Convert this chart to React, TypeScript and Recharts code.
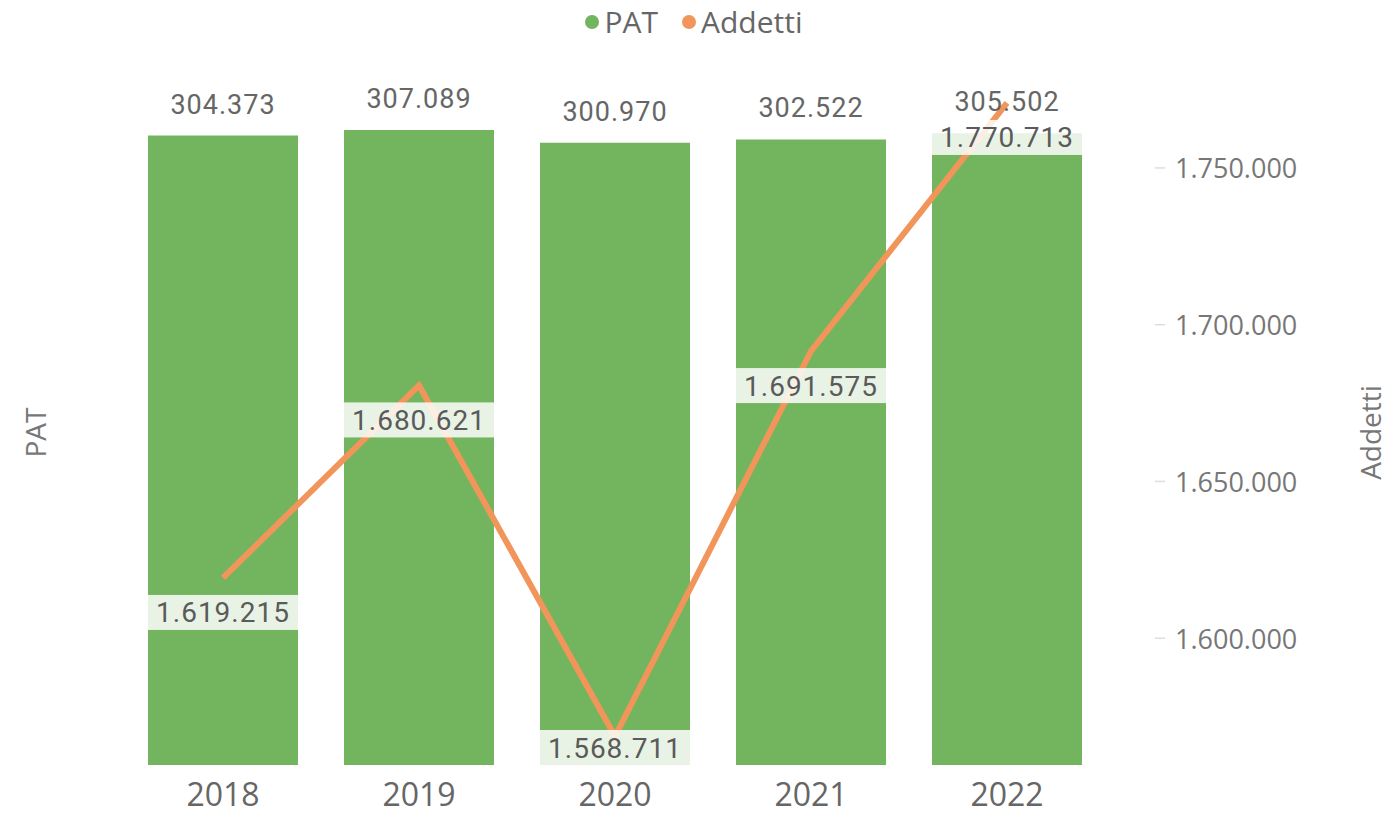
import {
  ComposedChart,
  Bar,
  Line,
  XAxis,
  YAxis,
  Legend,
  LabelList,
  Label,
} from 'recharts';

const years = ['2018', '2019', '2020', '2021', '2022'];
const pat = [304373, 307089, 300970, 302522, 305502];
const addetti = [1619215, 1680621, 1568711, 1691575, 1770713];
const addettiTicks = [1600000, 1650000, 1700000, 1750000];

const data = years.map((year, i) => ({ year, pat: pat[i], addetti: addetti[i] }));

const GREEN = '#72B55E';
const ORANGE = '#F2955A';
const TEXT = '#666666';

// separatore migliaia con il punto
const fmt = (v: number) => String(Math.round(v)).replace(/\B(?=(\d{3})+(?!\d))/g, '.');

const PLOT_BOTTOM = 765;

const LineLabel = (props: any) => {
  const { x, y, value } = props;
  let top = y + 17;
  if (top + 35 > PLOT_BOTTOM) top = PLOT_BOTTOM - 35;
  return (
    <g>
      <rect x={x - 75} y={top} width={150} height={35} fill="#ffffff" fillOpacity={0.84} />
      <text
        x={x}
        y={top + 18}
        textAnchor="middle"
        dominantBaseline="central"
        fill="#5a5a5a"
        fontSize={28}
        fontFamily="Roboto, sans-serif"
        letterSpacing={1}
      >
        {fmt(value)}
      </text>
    </g>
  );
};

const BarLabel = (props: any) => {
  const { x, y, width, value } = props;
  return (
    <text
      x={x + width / 2}
      y={y - 22}
      textAnchor="middle"
      fill={TEXT}
      fontSize={27}
      fontFamily="Roboto, sans-serif"
      letterSpacing={1}
    >
      {fmt(value)}
    </text>
  );
};

const RightTick = (props: any) => {
  const { x, y, payload } = props;
  return (
    <g>
      <line x1={x - 20} x2={x - 10} y1={y} y2={y} stroke="#dddddd" strokeWidth={1.5} />
      <text
        x={x}
        y={y}
        dominantBaseline="central"
        fill="#777777"
        fontSize={27}
        fontFamily="'Open Sans', sans-serif"
      >
        {fmt(payload.value)}
      </text>
    </g>
  );
};

const LegendContent = () => (
  <div
    style={{
      height: 100,
      display: 'flex',
      justifyContent: 'center',
      alignItems: 'flex-start',
      fontFamily: "'Open Sans', sans-serif",
      fontSize: 30,
      color: TEXT,
      lineHeight: '44px',
    }}
  >
    <span style={{ display: 'flex', alignItems: 'center', marginRight: 24 }}>
      <span style={{ width: 14, height: 14, borderRadius: 7, background: GREEN, marginRight: 5 }} />
      PAT
    </span>
    <span style={{ display: 'flex', alignItems: 'center' }}>
      <span style={{ width: 14, height: 14, borderRadius: 7, background: ORANGE, marginRight: 5 }} />
      Addetti
    </span>
  </div>
);

const App = () => {
  return (
    <div style={{ position: 'absolute', left: 0, top: 0, width: 1388, height: 817, background: '#fff' }}>
      <ComposedChart
        width={1388}
        height={817}
        data={data}
        margin={{ top: 0, right: 0, left: 0, bottom: 0 }}
        barCategoryGap={23}
      >
        <Legend verticalAlign="top" align="center" content={<LegendContent />} />

        <XAxis
          dataKey="year"
          axisLine={false}
          tickLine={false}
          height={52}
          tickMargin={12}
          tick={{ fill: TEXT, fontSize: 32, fontFamily: "'Open Sans', sans-serif" }}
        />

        <YAxis
          yAxisId="left"
          domain={[0, 321600]}
          tick={false}
          axisLine={false}
          tickLine={false}
          width={125}
        >
          <Label
            content={({ viewBox }: any) => {
              const cx = 35;
              const cy = viewBox.y + viewBox.height / 2;
              return (
                <text
                  x={cx}
                  y={cy}
                  transform={`rotate(-90 ${cx} ${cy})`}
                  textAnchor="middle"
                  dominantBaseline="central"
                  fill="#777777"
                  fontSize={28}
                  fontFamily="'Open Sans', sans-serif"
                >
                  PAT
                </text>
              );
            }}
          />
        </YAxis>

        <YAxis
          yAxisId="right"
          orientation="right"
          domain={[1559554, 1771656]}
          ticks={addettiTicks}
          axisLine={false}
          tickLine={false}
          tickMargin={64}
          width={283}
          tick={<RightTick />}
        >
          <Label
            content={({ viewBox }: any) => {
              const cx = viewBox.x + 265;
              const cy = viewBox.y + viewBox.height / 2;
              return (
                <text
                  x={cx}
                  y={cy}
                  transform={`rotate(-90 ${cx} ${cy})`}
                  textAnchor="middle"
                  dominantBaseline="central"
                  fill="#777777"
                  fontSize={28}
                  fontFamily="'Open Sans', sans-serif"
                >
                  Addetti
                </text>
              );
            }}
          />
        </YAxis>

        <Bar yAxisId="left" dataKey="pat" name="PAT" fill={GREEN} isAnimationActive={false}>
          <LabelList dataKey="pat" content={<BarLabel />} />
        </Bar>

        <Line
          yAxisId="right"
          dataKey="addetti"
          name="Addetti"
          type="linear"
          stroke={ORANGE}
          strokeWidth={6}
          dot={false}
          activeDot={false}
          isAnimationActive={false}
        >
          <LabelList dataKey="addetti" content={<LineLabel />} />
        </Line>
      </ComposedChart>
    </div>
  );
};

export default App;
